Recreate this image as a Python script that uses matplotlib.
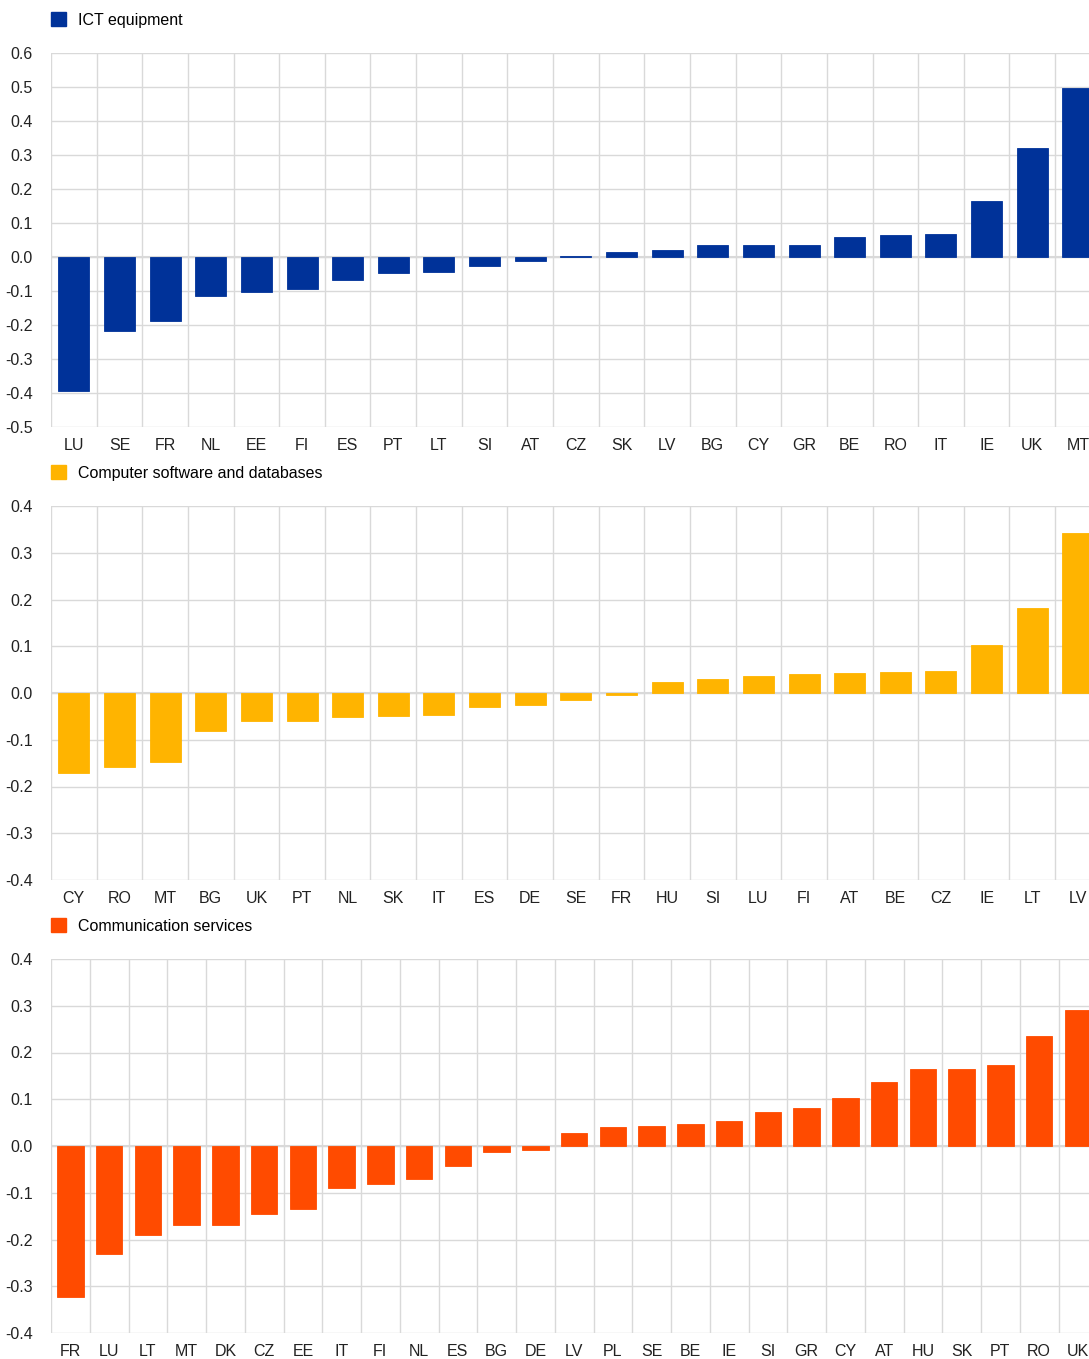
import numpy as np
import matplotlib.pyplot as plt
from matplotlib.patches import Patch

plt.rcParams['font.family'] = ['Liberation Sans', 'DejaVu Sans']
plt.rcParams['axes.unicode_minus'] = False

# ICT equipment
ict_labels = ['LU', 'SE', 'FR', 'NL', 'EE', 'FI', 'ES', 'PT', 'LT', 'SI', 'AT', 'CZ',
              'SK', 'LV', 'BG', 'CY', 'GR', 'BE', 'RO', 'IT', 'IE', 'UK', 'MT']
ict_values = [-0.395, -0.218, -0.188, -0.115, -0.103, -0.095, -0.068, -0.047, -0.045,
              -0.026, -0.013, 0.002, 0.016, 0.022, 0.034, 0.035, 0.035, 0.059, 0.065,
              0.067, 0.165, 0.320, 0.497]

# Computer software and databases
sw_labels = ['CY', 'RO', 'MT', 'BG', 'UK', 'PT', 'NL', 'SK', 'IT', 'ES', 'DE', 'SE',
             'FR', 'HU', 'SI', 'LU', 'FI', 'AT', 'BE', 'CZ', 'IE', 'LT', 'LV']
sw_values = [-0.171, -0.158, -0.148, -0.081, -0.060, -0.060, -0.051, -0.049, -0.047,
             -0.031, -0.025, -0.016, -0.004, 0.024, 0.031, 0.036, 0.041, 0.043, 0.045,
             0.047, 0.103, 0.182, 0.342]

# Communication services
com_labels = ['FR', 'LU', 'LT', 'MT', 'DK', 'CZ', 'EE', 'IT', 'FI', 'NL', 'ES', 'BG',
              'DE', 'LV', 'PL', 'SE', 'BE', 'IE', 'SI', 'GR', 'CY', 'AT', 'HU', 'SK',
              'PT', 'RO', 'UK']
com_values = [-0.323, -0.231, -0.190, -0.169, -0.169, -0.145, -0.135, -0.090, -0.081,
              -0.071, -0.043, -0.012, -0.008, 0.027, 0.041, 0.043, 0.046, 0.053, 0.073,
              0.081, 0.103, 0.137, 0.165, 0.165, 0.173, 0.235, 0.291]

W, H = 1089, 1359
fig = plt.figure(figsize=(W / 100, H / 100), dpi=100)

panels = [
    (ict_labels, ict_values, '#003299', 'ICT equipment', (-0.5, 0.6), 53, 427, 45.64, 20),
    (sw_labels, sw_values, '#FFB400', 'Computer software and databases', (-0.4, 0.4), 506, 880, 45.64, 473),
    (com_labels, com_values, '#FF4B00', 'Communication services', (-0.4, 0.4), 959, 1333, 38.75, 926),
]

grid_col = '#d9d9d9'
for labels, values, col, name, (ymin, ymax), top, bot, step, leg_y in panels:
    n = len(labels)
    left = 51
    width = n * step
    ax = fig.add_axes([left / W, 1 - bot / H, width / W, (bot - top) / H])
    x = np.arange(n)
    ax.bar(x, values, width=0.68, color=col, edgecolor=col, linewidth=0.6, zorder=3)
    ax.set_xlim(-0.5, n - 0.5)
    ax.set_ylim(ymin, ymax)
    ax.set_xticks(x)
    ax.set_xticklabels(labels)
    ax.set_xticks(np.arange(n + 1) - 0.5, minor=True)
    yt = np.round(np.arange(ymin, ymax + 0.001, 0.1), 1) + 0.0
    ax.set_yticks(yt)
    ax.set_yticklabels(['%.1f' % (v if abs(v) > 1e-9 else 0.0) for v in yt])
    ax.grid(True, which='minor', axis='x', color=grid_col, linewidth=1, zorder=0)
    ax.grid(True, which='major', axis='y', color=grid_col, linewidth=1, zorder=0)
    ax.axhline(0, color=grid_col, linewidth=1.5, zorder=1)
    ax.tick_params(axis='both', which='both', length=0, labelsize=11.5, colors='#222222')
    ax.tick_params(axis='x', pad=8)
    ax.tick_params(axis='y', pad=13)
    for s in ax.spines.values():
        s.set_visible(False)
    handle = Patch(facecolor=col, edgecolor=col)
    ax.legend([handle], [name], loc='center left', bbox_to_anchor=(51 / W, 1 - leg_y / H),
              bbox_transform=fig.transFigure, frameon=False, fontsize=11.5,
              handlelength=0.95, handleheight=0.95, handletextpad=0.75,
              borderaxespad=0, borderpad=0)

fig.savefig('out.png', dpi=100)
